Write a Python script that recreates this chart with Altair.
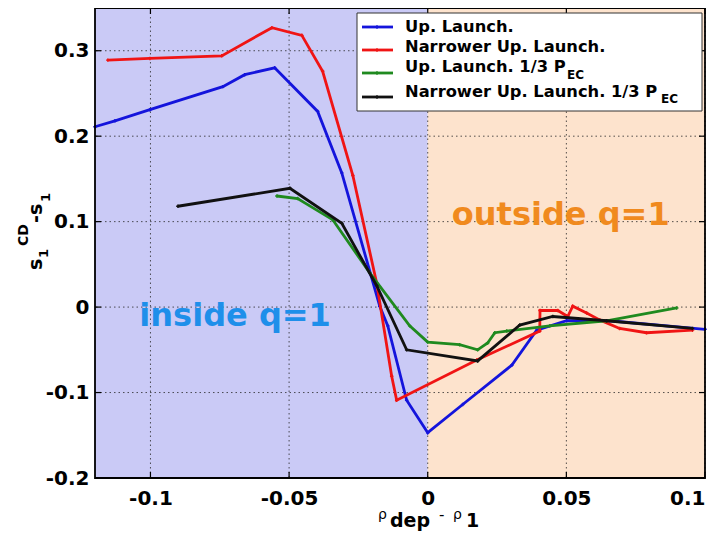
import altair as alt
import pandas as pd

# ---------------- data ----------------
x_ticks = [-0.1, -0.05, 0.0, 0.05, 0.1]
y_ticks = [-0.2, -0.1, 0.0, 0.1, 0.2, 0.3]

series_names = ["Up. Launch.", "Narrower Up. Launch.",
                "Up. Launch. 1/3 P", "Narrower Up. Launch. 1/3 P"]
series_colors = ["#1414DC", "#F01414", "#1F8A1F", "#111111"]

blue_x = [-0.12, -0.1128, -0.1002, -0.0739, -0.0660, -0.0552, -0.0397, -0.0310,
          -0.0173, -0.0144, -0.0076, 0.0, 0.0126, 0.0303, 0.0393, 0.0501, 0.0656, 0.1]
blue_y = [0.211, 0.218, 0.231, 0.258, 0.272, 0.280, 0.229, 0.157,
          0.001, -0.022, -0.109, -0.147, -0.114, -0.068, -0.027, -0.016, -0.016, -0.026]

red_x = [-0.1154, -0.1002, -0.0743, -0.0562, -0.0454, -0.0379, -0.0270, -0.0184,
         -0.0130, -0.0112, 0.0177, 0.0404, 0.0405, 0.0469, 0.0505, 0.0523, 0.0573,
         0.0620, 0.0692, 0.0789, 0.0955]
red_y = [0.289, 0.291, 0.294, 0.327, 0.318, 0.276, 0.154, 0.028,
         -0.081, -0.109, -0.062, -0.028, -0.004, -0.004, -0.011, 0.001, -0.007,
         -0.015, -0.025, -0.030, -0.027]

green_x = [-0.0544, -0.0469, -0.0342, -0.0209, -0.0065, 0.0, 0.0115, 0.0180,
           0.0216, 0.0242, 0.0285, 0.0440, 0.0645, 0.0898]
green_y = [0.130, 0.127, 0.102, 0.040, -0.022, -0.041, -0.044, -0.050,
           -0.042, -0.030, -0.028, -0.022, -0.016, -0.001]

black_x = [-0.0901, -0.0497, -0.0310, -0.0184, -0.0076, 0.0180, 0.0332, 0.0451,
           0.0645, 0.0955]
black_y = [0.118, 0.139, 0.098, 0.025, -0.050, -0.063, -0.021, -0.011,
           -0.016, -0.025]

region_start = [-0.12, 0.0]
region_end = [0.0, 0.1]
region_colors = ["#CACAF6", "#FDE3CD"]

note_text = ["inside q=1", "outside q=1"]
note_x = [-0.104, 0.0087]
note_y = [-0.022, 0.096]
note_colors = ["#1E8FEA", "#F08A1E"]

X_DOMAIN = [-0.12, 0.1]
Y_DOMAIN = [-0.2, 0.35]

# ---------------- layout ----------------
W, H = 610, 470
FONT = "DejaVu Sans"

xs = alt.Scale(domain=X_DOMAIN, nice=False, zero=False)
ys = alt.Scale(domain=Y_DOMAIN, nice=False, zero=False)

x_axis = alt.Axis(values=x_ticks, grid=False, ticks=False, domain=False,
                  labelFont=FONT, labelFontWeight="bold", labelFontSize=20,
                  labelColor="black", labelPadding=10, title="",
                  labelExpr="datum.value == 0 ? '0' : (datum.value < 0 ? '-' : '') + format(abs(datum.value), '.2~f')")
y_axis = alt.Axis(values=y_ticks, grid=False, ticks=False, domain=False,
                  labelFont=FONT, labelFontWeight="bold", labelFontSize=20,
                  labelColor="black", labelPadding=6, title="",
                  labelExpr="(datum.value < 0 ? '-' : '') + format(abs(datum.value), '.1~f')")

bg_df = pd.DataFrame({"x0": region_start, "x1": region_end,
                      "y0": [Y_DOMAIN[0]] * 2, "y1": [Y_DOMAIN[1]] * 2,
                      "c": region_colors})
background = alt.Chart(bg_df).mark_rect().encode(
    x=alt.X("x0:Q", scale=xs, axis=x_axis),
    x2="x1:Q",
    y=alt.Y("y0:Q", scale=ys, axis=y_axis),
    y2="y1:Q",
    fill=alt.Fill("c:N", scale=None),
)

xt_df = pd.DataFrame({"v": x_ticks})
yt_df = pd.DataFrame({"v": y_ticks})
grid_style = dict(color="#2a2a2a", strokeWidth=1, strokeDash=[1.5, 3], opacity=0.8)
grid_x = alt.Chart(xt_df).mark_rule(**grid_style).encode(x=alt.X("v:Q", scale=xs))
grid_y = alt.Chart(yt_df).mark_rule(**grid_style).encode(y=alt.Y("v:Q", scale=ys))

tick_style = dict(color="black", strokeWidth=1.2)
ticks = [
    alt.Chart(xt_df).mark_rule(**tick_style).encode(x=alt.X("v:Q", scale=xs), y=alt.value(H), y2=alt.value(H - 6)),
    alt.Chart(xt_df).mark_rule(**tick_style).encode(x=alt.X("v:Q", scale=xs), y=alt.value(0), y2=alt.value(6)),
    alt.Chart(yt_df).mark_rule(**tick_style).encode(y=alt.Y("v:Q", scale=ys), x=alt.value(0), x2=alt.value(6)),
    alt.Chart(yt_df).mark_rule(**tick_style).encode(y=alt.Y("v:Q", scale=ys), x=alt.value(W), x2=alt.value(W - 6)),
]

all_x = [blue_x, red_x, green_x, black_x]
all_y = [blue_y, red_y, green_y, black_y]
series_layers = []
for name, col, sx, sy in zip(series_names, series_colors, all_x, all_y):
    df = pd.DataFrame({"x": sx, "y": sy, "order": list(range(len(sx)))})
    base = alt.Chart(df)
    series_layers.append(base.mark_line(color=col, strokeWidth=2.8).encode(
        x=alt.X("x:Q", scale=xs), y=alt.Y("y:Q", scale=ys), order="order:Q"))
    series_layers.append(base.mark_point(color=col, shape="cross", filled=True, size=12, opacity=1).encode(
        x=alt.X("x:Q", scale=xs), y=alt.Y("y:Q", scale=ys)))

note_df = pd.DataFrame({"t": note_text, "x": note_x, "y": note_y, "c": note_colors})
notes = alt.Chart(note_df).mark_text(font=FONT, fontWeight="bold", fontSize=32,
                                     align="left", baseline="alphabetic").encode(
    x=alt.X("x:Q", scale=xs), y=alt.Y("y:Q", scale=ys), text="t:N",
    color=alt.Color("c:N", scale=None))

one = pd.DataFrame({"k": [0]})

frame = alt.Chart(one).mark_rect(fillOpacity=0, stroke="black", strokeWidth=1.8).encode(
    x=alt.value(0), x2=alt.value(W), y=alt.value(0), y2=alt.value(H))

# ---------------- custom legend ----------------
legend_layers = [
    alt.Chart(one).mark_rect(fill="white", stroke="#333333", strokeWidth=1).encode(
        x=alt.value(262), x2=alt.value(607), y=alt.value(5), y2=alt.value(103))
]
sw_y = [19, 42, 65, 89]
txt_y = [24, 44, 64, 89]
for name, col, sy, ty in zip(series_names, series_colors, sw_y, txt_y):
    legend_layers.append(alt.Chart(one).mark_rule(color=col, strokeWidth=2.8).encode(
        x=alt.value(267), x2=alt.value(298), y=alt.value(sy)))
    legend_layers.append(alt.Chart(one).mark_point(color=col, shape="cross", filled=True, size=14, opacity=1).encode(
        x=alt.value(282), y=alt.value(sy)))
    legend_layers.append(alt.Chart(one).mark_text(text=name, font=FONT, fontWeight="bold", fontSize=16.3,
                                                  align="left", baseline="alphabetic", color="black").encode(
        x=alt.value(310), y=alt.value(ty)))
for sx, sy in [(472, 71), (566, 95)]:
    legend_layers.append(alt.Chart(one).mark_text(text="EC", font=FONT, fontWeight="bold", fontSize=12,
                                                  align="left", baseline="alphabetic", color="black").encode(
        x=alt.value(sx), y=alt.value(sy)))

# ---------------- axis titles ----------------
def txt(s, x, y, size, weight="bold", angle=0):
    kw = dict(text=s, font=FONT, fontWeight=weight, fontSize=size, align="left",
              baseline="alphabetic", color="black")
    if angle:
        kw["angle"] = angle
    return alt.Chart(one).mark_text(**kw).encode(x=alt.value(x), y=alt.value(y))

title_layers = [
    txt("\u03c1", 283, 511, 14, "normal"),
    txt("dep", 295, 519, 19),
    txt("-", 344, 512, 15, "normal"),
    txt("\u03c1", 358, 511, 14, "normal"),
    txt("1", 371, 519, 19),
    txt("s", -53, 262, 19, angle=270),
    txt("1", -47, 250, 13, angle=270),
    txt("CD", -67, 238, 14, angle=270),
    txt("-s", -53, 215, 19, angle=270),
    txt("1", -45, 194, 13, angle=270),
]

chart = alt.layer(
    background, grid_x, grid_y, *ticks, *series_layers, notes, frame,
    *legend_layers, *title_layers
).properties(
    width=W, height=H,
    autosize=alt.AutoSizeParams(type="none"),
    padding={"left": 87, "top": 0, "right": 3, "bottom": 54},
).configure_view(stroke=None)

chart.save("out.html", embed_options={"renderer": "svg", "actions": False})
